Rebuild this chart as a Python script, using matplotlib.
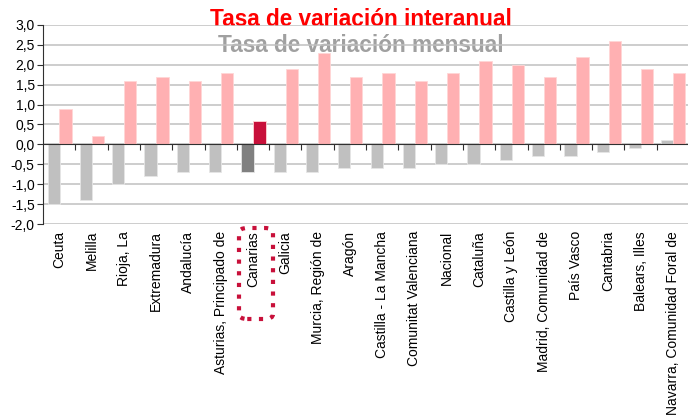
import matplotlib.pyplot as plt
import matplotlib.transforms as mtransforms
from matplotlib.patches import FancyBboxPatch
import numpy as np

plt.rcParams['font.family'] = ['Liberation Sans', 'DejaVu Sans']

# Comunidades autónomas (ordenadas por tasa mensual)
regiones = ['Ceuta', 'Melilla', 'Rioja, La', 'Extremadura', 'Andalucía',
            'Asturias, Principado de', 'Canarias', 'Galicia', 'Murcia, Región de',
            'Aragón', 'Castilla - La Mancha', 'Comunitat Valenciana', 'Nacional',
            'Cataluña', 'Castilla y León', 'Madrid, Comunidad de', 'País Vasco',
            'Cantabria', 'Balears, Illes', 'Navarra, Comunidad Foral de']
mensual = [-1.5, -1.4, -1.0, -0.8, -0.7, -0.7, -0.7, -0.7, -0.7, -0.6,
           -0.6, -0.6, -0.5, -0.5, -0.4, -0.3, -0.3, -0.2, -0.1, 0.1]
interanual = [0.9, 0.2, 1.6, 1.7, 1.6, 1.8, 0.6, 1.9, 2.3, 1.7,
              1.8, 1.6, 1.8, 2.1, 2.0, 1.7, 2.2, 2.6, 1.9, 1.8]
destacada = 'Canarias'

yticks = np.arange(-2.0, 3.01, 0.5)

col_mens = ['#808080' if r == destacada else '#C0C0C0' for r in regiones]
col_inter = ['#C8103A' if r == destacada else '#FFB0B2' for r in regiones]

fig = plt.figure(figsize=(6.88, 4.16), dpi=100)
ax = fig.add_axes([43 / 688, 1 - 224 / 416, 646 / 688, 199 / 416])

x = np.arange(len(regiones))
w = 0.38
ax.bar(x - 0.17, mensual, width=w, color=col_mens, edgecolor='#E6E6E6',
       linewidth=0.6, zorder=2)
ax.bar(x + 0.2, interanual, width=w, color=col_inter, edgecolor='#FFD6D6',
       linewidth=0.6, zorder=2)

ax.set_xlim(-0.5, len(regiones) - 0.5)
ax.set_ylim(-2.0, 3.0)
ax.set_yticks(yticks)
ax.set_yticklabels([f'{v:.1f}'.replace('.', ',') for v in yticks], fontsize=10)
ax.yaxis.grid(True, color='#C0C0C0', linewidth=1.1)
ax.set_axisbelow(True)

# eje x en el cero con marcas entre categorias
ax.spines['bottom'].set_position(('data', 0))
ax.spines['bottom'].set_color('#303030')
ax.spines['left'].set_color('#303030')
ax.spines['top'].set_visible(False)
ax.spines['right'].set_visible(False)
ax.set_xticks(x[:-1] + 0.5)
ax.set_xticklabels([])
ax.tick_params(axis='x', direction='out', length=4, color='#303030')
ax.tick_params(axis='y', direction='out', length=4, color='#303030', pad=2)

trans = mtransforms.blended_transform_factory(ax.transData, ax.transAxes)
for i, r in enumerate(regiones):
    ax.text(i, -0.035, r, transform=trans, rotation=90, ha='center', va='top',
            fontsize=10, clip_on=False)

# leyenda como textos
ax.text(361 / 688, 1 - 25.5 / 416, 'Tasa de variación interanual',
        transform=fig.transFigure, color='#FF0000', fontsize=16.3,
        fontweight='bold', ha='center', va='baseline', zorder=0.1)
ax.text(361 / 688, 1 - 52.5 / 416, 'Tasa de variación mensual',
        transform=fig.transFigure, color='#A0A0A0', fontsize=16.3,
        fontweight='bold', ha='center', va='baseline', zorder=0.1)

# recuadro punteado alrededor de Canarias
box = FancyBboxPatch((239 / 688, 1 - 319 / 416), 34 / 688, 91 / 416,
                     boxstyle='round,pad=0,rounding_size=0.012',
                     transform=fig.transFigure, fill=False,
                     edgecolor='#C8103A', linewidth=3,
                     linestyle=(0, (1, 1.8)), clip_on=False)
fig.patches.append(box)

plt.savefig('out.png', dpi=100)
plt.close()
